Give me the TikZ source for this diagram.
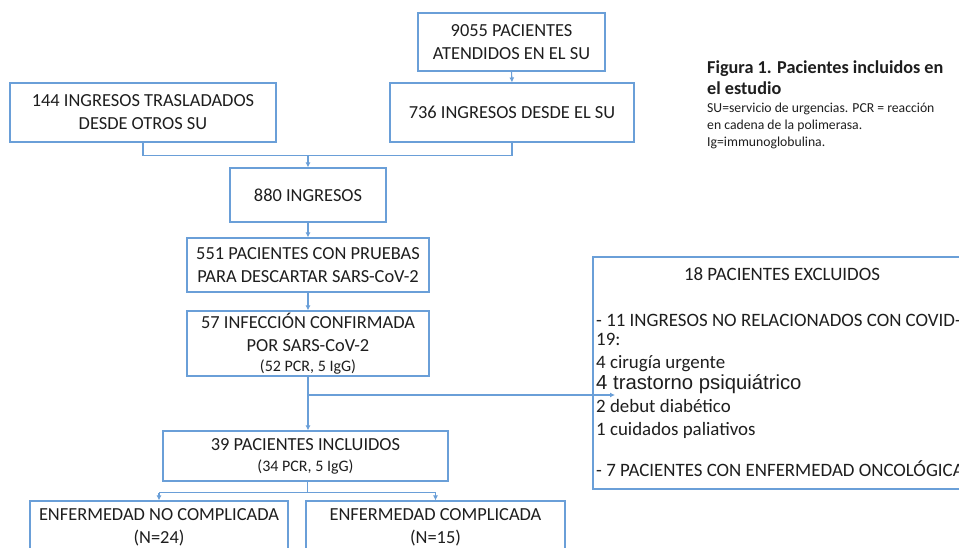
\documentclass[tikz,border=0pt]{standalone}
\usepackage{fontspec}
\setmainfont{Carlito}
\newfontfamily\arialf{Liberation Sans}
\usetikzlibrary{arrows.meta,calc}
\definecolor{bline}{HTML}{6A9FD8}
\definecolor{txt}{HTML}{1E1E1E}
\newcommand{\mainsz}{\fontsize{18.4}{23}\selectfont}
\newcommand{\exsz}{\fontsize{18.9}{23}\selectfont}
\newcommand{\smallsz}{\fontsize{16}{19}\selectfont}
\begin{document}
\begin{tikzpicture}[x=1pt,y=-1pt,
  box/.style={draw=bline,line width=1.1pt,inner sep=0pt,align=center,text=txt,font=\mainsz},
  conn/.style={draw=bline,line width=1.1pt},
  arr/.style={conn,-{Latex[length=5pt,width=5pt]}},
  ltxt/.style={anchor=base west,inner sep=0pt,text=txt,font=\exsz}]
\useasboundingbox (0,0) rectangle (959,547);
\clip (0,0) rectangle (959,547);
\fill[white] (0,0) rectangle (959,547);

\node[box,minimum width=187pt,minimum height=58pt] (n9055) at (511.5,42) {9055 PACIENTES\\ATENDIDOS EN EL SU};
\node[box,minimum width=266pt,minimum height=59pt] (n144) at (143,112.5) {144 INGRESOS TRASLADADOS\\DESDE OTROS SU};
\node[box,minimum width=244pt,minimum height=59pt] (n736) at (512,112.5) {736 INGRESOS DESDE EL SU};
\node[box,minimum width=156pt,minimum height=54pt] (n880) at (308,195) {880 INGRESOS};
\node[box,minimum width=242pt,minimum height=54pt] (n551) at (308,265) {551 PACIENTES CON PRUEBAS\\PARA DESCARTAR SARS-CoV-2};
\node[box,minimum width=242pt,minimum height=65pt] (n57) at (308,343.5) {57 INFECCIÓN CONFIRMADA\\POR SARS-CoV-2\\[-3pt]{\smallsz (52 PCR, 5 IgG)}};
\node[box,minimum width=285pt,minimum height=50pt] (n39) at (305.5,456) {39 PACIENTES INCLUIDOS\\[-2pt]{\smallsz (34 PCR, 5 IgG)}};
\node[box,minimum width=258pt,minimum height=52pt] (nunc) at (159,527) {ENFERMEDAD NO COMPLICADA\\(N=24)};
\node[box,minimum width=259pt,minimum height=52pt] (ncom) at (435.5,527) {ENFERMEDAD COMPLICADA\\(N=15)};
\node[box,minimum width=407pt,minimum height=232pt] (nexc) at (796.5,373) {};

% excluded box texts
\node[anchor=base,inner sep=0pt,text=txt,font=\exsz] (t18) at (782,280) {18 PACIENTES EXCLUIDOS};
\node[ltxt] (t11) at (596,326) {- 11 INGRESOS NO RELACIONADOS CON COVID-};
\node[ltxt] (t19) at (596,345) {19:};
\node[ltxt] (tcir) at (596,368) {4 cirugía urgente};
\node[ltxt,font=\arialf\fontsize{20.3}{23}\selectfont] (ttra) at (596,389) {4 trastorno psiquiátrico};
\node[ltxt] (tdeb) at (596,412) {2 debut diabético};
\node[ltxt] (tcui) at (596,435) {1 cuidados paliativos};
\node[ltxt] (tonc) at (596,476) {- 7 PACIENTES CON ENFERMEDAD ONCOLÓGICA};

% caption
\node[ltxt,font=\bfseries\fontsize{18.2}{23}\selectfont] (cap1) at (707,73) {Figura 1. Pacientes incluidos en};
\node[ltxt,font=\bfseries\fontsize{18.2}{23}\selectfont] (cap2) at (707,94) {el estudio};
\node[ltxt,font=\fontsize{13.7}{17}\selectfont] (cap3) at (707,112) {SU=servicio de urgencias. PCR = reacción};
\node[ltxt,font=\fontsize{13.7}{17}\selectfont] (cap4) at (707,129) {en cadena de la polimerasa.};
\node[ltxt,font=\fontsize{13.7}{17}\selectfont] (cap5) at (707,146) {Ig=immunoglobulina.};

% connectors
\draw[arr] (n9055.south) -- (n736.north);
\coordinate (jl) at ($(n144.south)+(0,13)$);
\draw[conn] (n144.south) -- (jl) -| (n736.south);
\draw[arr] (jl -| n880.north) -- (n880.north);
\draw[arr] (n880.south) -- (n551.north);
\draw[arr] (n551.south) -- (n57.north);
\draw[arr] (n57.south) -- (n57.south |- n39.north);
\coordinate (tip) at (615,395);
\draw[arr] (n57.south |- tip) -- (tip);
\coordinate (bj) at ($(n39.south)+(2,11)$);
\draw[conn] (n39.south -| bj) -- (bj);
\draw[conn] (bj -| nunc.north) -- (bj -| ncom.north);
\draw[arr] (bj -| nunc.north) -- (nunc.north);
\draw[arr] (bj -| ncom.north) -- (ncom.north);
\end{tikzpicture}
\end{document}
